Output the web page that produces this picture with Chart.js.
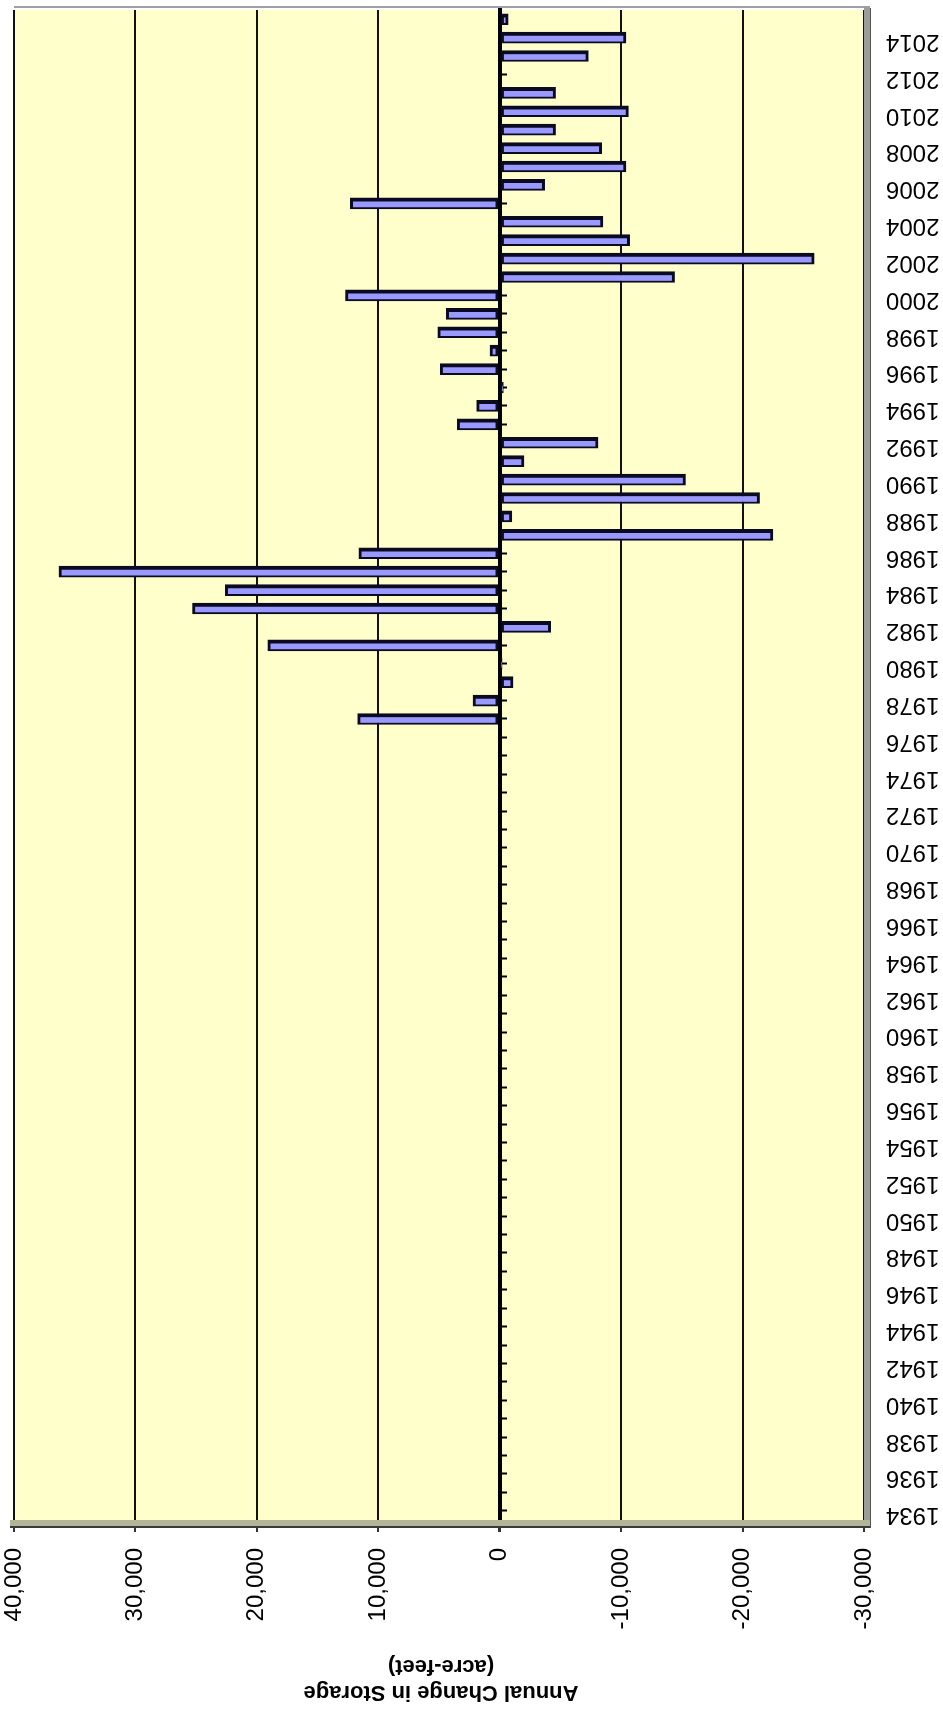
<!DOCTYPE html>
<html>
<head>
<meta charset="utf-8">
<script src="https://cdn.jsdelivr.net/npm/chart.js@4"></script>
<style>
html,body{margin:0;padding:0;background:#ffffff;}
#wrap{position:relative;width:943px;height:1712px;}
</style>
</head>
<body>
<div id="wrap"><canvas id="c"></canvas></div>
<script>
const years = [1934,1935,1936,1937,1938,1939,1940,1941,1942,1943,1944,1945,1946,1947,1948,1949,
  1950,1951,1952,1953,1954,1955,1956,1957,1958,1959,1960,1961,1962,1963,1964,1965,1966,1967,1968,1969,
  1970,1971,1972,1973,1974,1975,1976,1977,1978,1979,1980,1981,1982,1983,1984,1985,1986,1987,1988,1989,
  1990,1991,1992,1993,1994,1995,1996,1997,1998,1999,2000,2001,2002,2003,2004,2005,2006,2007,2008,2009,
  2010,2011,2012,2013,2014,2015];

const storageChange = [0,0,0,0,0,0,0,0,0,0,0,0,0,0,0,0,
  0,0,0,0,0,0,0,0,0,0,0,0,0,0,0,0,0,0,0,0,
  0,0,0,0,0,0,0,11700,2200,-1100,-200,19100,-4200,25300,22600,36300,11600,-22500,-1000,-21400,
  -15300,-2000,-8100,3500,1900,-300,4900,800,5100,4400,12700,-14400,-25900,-10700,-8500,12300,-3700,-10400,-8400,-4600,
  -10600,-4600,0,-7300,-10400,-700];

const axisTitle = ['Annual Change in Storage', '(acre-feet)'];
const valueMin = -30000;
const valueMax = 40000;
const valueStep = 10000;

const FONT = '"Liberation Sans", Arial, Helvetica, sans-serif';

const decor = {
  id: 'decor',
  beforeDraw(chart) {
    const {ctx, chartArea: a} = chart;
    ctx.save();
    ctx.fillStyle = '#FFFFCC';
    ctx.fillRect(a.left, a.top, a.right - a.left, a.bottom - a.top);
    ctx.restore();
  },
  beforeDatasetsDraw(chart) {
    const {ctx, chartArea: a} = chart;
    ctx.save();
    ctx.strokeStyle = '#a0a0a0';
    ctx.lineWidth = 2;
    ctx.beginPath();
    ctx.moveTo(a.left, a.top - 3);
    ctx.lineTo(a.right + 6, a.top - 3);
    ctx.stroke();
    ctx.fillStyle = '#9c9c9c';
    ctx.fillRect(a.right, a.top - 3, 6, a.bottom - a.top + 10);
    ctx.strokeStyle = '#555555';
    ctx.lineWidth = 1;
    ctx.beginPath();
    ctx.moveTo(a.right + 6.5, a.top - 2);
    ctx.lineTo(a.right + 6.5, a.bottom + 8);
    ctx.stroke();
    ctx.fillStyle = '#b4b496';
    ctx.fillRect(a.left - 4, a.bottom, a.right - a.left + 10, 6);
    ctx.strokeStyle = '#3a3a3a';
    ctx.lineWidth = 2;
    ctx.beginPath();
    ctx.moveTo(a.left - 4, a.bottom + 7);
    ctx.lineTo(a.right + 6, a.bottom + 7);
    ctx.stroke();
    ctx.restore();
  },
  afterDraw(chart) {
    const {ctx, chartArea: a} = chart;
    const cx = (a.left + a.right) / 2 + 2;
    ctx.save();
    ctx.font = 'bold 22px ' + FONT;
    ctx.fillStyle = '#000000';
    ctx.textAlign = 'center';
    ctx.textBaseline = 'middle';
    const ys = [1692, 1666];
    axisTitle.forEach((t, i) => {
      ctx.save();
      ctx.translate(cx, ys[i]);
      ctx.rotate(Math.PI);
      ctx.fillText(t, 0, 0);
      ctx.restore();
    });
    ctx.restore();
  }
};

new Chart(document.getElementById('c'), {
  type: 'bar',
  data: {
    labels: years,
    datasets: [{
      data: storageChange,
      xAxisID: 'x',
      yAxisID: 'y',
      backgroundColor: '#9999FF',
      borderColor: '#0a0a20',
      borderWidth: {top: 4, bottom: 2, left: 3, right: 3},
      borderSkipped: false,
      barThickness: 11
    }]
  },
  options: {
    indexAxis: 'y',
    responsive: true,
    maintainAspectRatio: false,
    devicePixelRatio: 1,
    animation: false,
    layout: {padding: {left: 14, top: 10, right: 0, bottom: 0}},
    plugins: {legend: {display: false}, tooltip: {enabled: false}, title: {display: false}},
    scales: {
      x: {
        type: 'linear',
        position: 'bottom',
        reverse: true,
        min: valueMin,
        max: valueMax,
        ticks: {
          stepSize: valueStep,
          minRotation: 90,
          maxRotation: 90,
          padding: 16,
          color: '#000000',
          font: {family: FONT, size: 24},
          callback: (v) => Number(v).toLocaleString('en-US')
        },
        grid: {
          color: '#111111',
          lineWidth: (c) => (c.tick && c.tick.value === 0) ? 3 : 2,
          tickColor: '#333333',
          tickLength: 12,
          drawTicks: true
        },
        border: {display: false},
        afterFit(s) { s.height = 192; s.paddingLeft = 0; s.paddingRight = 0; }
      },
      y: {
        type: 'category',
        position: 'right',
        reverse: true,
        offset: true,
        grid: {display: false, drawTicks: false},
        border: {display: false},
        ticks: {
          autoSkip: false,
          minRotation: 180,
          maxRotation: 180,
          crossAlign: 'center',
          padding: 22,
          labelOffset: 4,
          color: '#000000',
          font: {family: FONT, size: 24},
          callback: function (v, i) {
            const yr = years[i];
            return (yr % 2 === 0) ? String(yr) : '';
          }
        },
        afterFit(s) { s.width = 79; s.paddingTop = 0; s.paddingBottom = 0; }
      },
      y2: {
        type: 'category',
        labels: years,
        position: {x: 0},
        reverse: true,
        offset: true,
        grid: {drawOnChartArea: false, drawTicks: true, tickLength: -9, tickColor: '#000000', tickWidth: 2, offset: false},
        border: {display: true, color: '#000000', width: 4},
        ticks: {display: false}
      }
    }
  },
  plugins: [decor]
});
</script>
</body>
</html>
